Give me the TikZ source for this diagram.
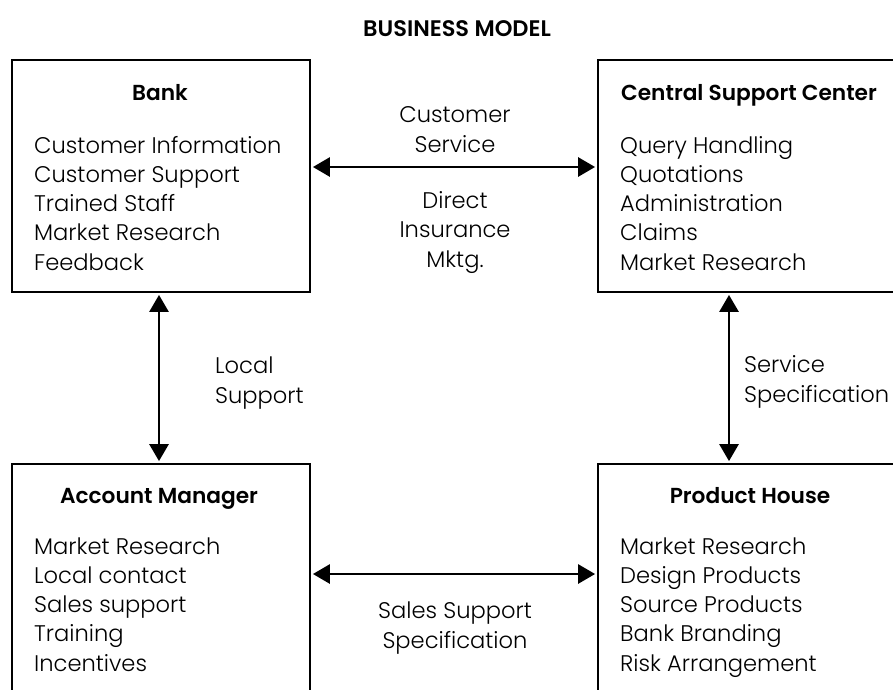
\documentclass[tikz,border=0pt]{standalone}
\usepackage{fontspec}
\setmainfont{Poppins Light}[BoldFont=Poppins SemiBold]
\usetikzlibrary{arrows.meta,positioning}

\tikzset{
  box/.style={draw, line width=1.8pt, minimum width=298pt, minimum height=232pt, inner sep=0pt},
  head/.style={inner sep=0pt, anchor=base, font=\fontsize{21.7}{26}\selectfont\bfseries},
  items/.style={align=left, inner sep=0pt, anchor=base west, font=\fontsize{22.6}{29.1}\selectfont},
  lbl/.style={align=center, inner sep=0pt, anchor=base, font=\fontsize{22.6}{29.2}\selectfont},
  biarrow/.style={{Triangle[length=17pt,width=19pt]}-{Triangle[length=17pt,width=19pt]},
    line width=2.8pt, shorten <=2pt, shorten >=2pt}
}

\begin{document}
\begin{tikzpicture}[x=1pt,y=-1pt]
  \useasboundingbox (0,0) rectangle (893,689);
  \clip (0,0) rectangle (893,689);

  \node[head, font=\fontsize{22.5}{26}\selectfont\bfseries] (title) at (457,36) {BUSINESS MODEL};

  % the four parties
  \node[box] (bank)  at (161,176) {};
  \node[box] (csc)   at (747,176) {};
  \node[box] (acct)  at (161,580) {};
  \node[box] (house) at (747,580) {};

  \node[head] (bankhead)  at (160,100) {Bank};
  \node[head] (cschead)   at (749,100) {Central Support Center};
  \node[head] (accthead)  at (159,503) {Account Manager};
  \node[head] (househead) at (750,503) {Product House};

  % lists, placed by the baseline of their last line
  \node[items] (bankitems) at (34,270) {Customer Information\\Customer Support\\Trained Staff\\Market Research\\Feedback};
  \node[items] (cscitems) at (620,270) {Query Handling\\Quotations\\Administration\\Claims\\Market Research};
  \node[items] (acctitems) at (34,671) {Market Research\\Local contact\\Sales support\\Training\\Incentives};
  \node[items] (houseitems) at (620,671) {Market Research\\Design Products\\Source Products\\Bank Branding\\Risk Arrangement};

  % links between them
  \draw[biarrow] ([yshift=9pt]bank.east) -- ([yshift=9pt]csc.west);
  \draw[biarrow] ([xshift=-2pt]bank.south) -- ([xshift=-2pt]acct.north);
  \draw[biarrow] ([xshift=-18pt]csc.south) -- ([xshift=-18pt]house.north);
  \draw[biarrow] ([yshift=6pt]acct.east) -- ([yshift=6pt]house.west);

  \node[lbl] (service) at (455,152) {Customer\\Service};
  \node[lbl] (direct) at (455,267) {Direct\\Insurance\\Mktg.};
  \node[lbl, align=left, anchor=base west] (local) at (215,403) {Local\\Support};
  \node[lbl, align=left, anchor=base west] (spec) at (744,402) {Service\\Specification};
  \node[lbl] (sales) at (455,648) {Sales Support\\Specification};
\end{tikzpicture}
\end{document}
